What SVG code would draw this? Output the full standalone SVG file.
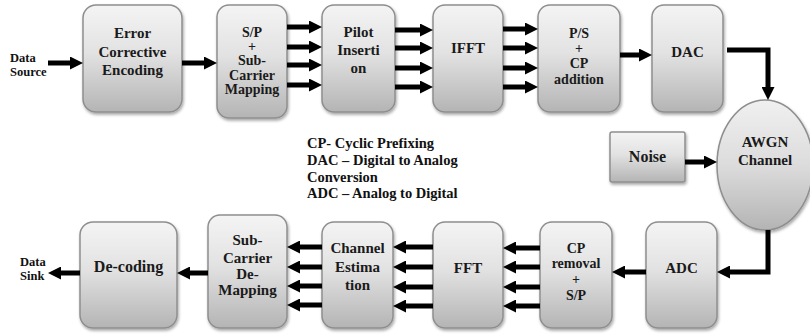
<svg xmlns="http://www.w3.org/2000/svg" width="810" height="336" viewBox="0 0 810 336">
<defs>
<linearGradient id="boxg" x1="0" y1="0" x2="0" y2="1">
<stop offset="0" stop-color="#f4f4f4"/>
<stop offset="0.45" stop-color="#e2e2e2"/>
<stop offset="1" stop-color="#b4b4b4"/>
</linearGradient>
<linearGradient id="ellg" x1="0" y1="0" x2="0" y2="1">
<stop offset="0" stop-color="#f0f0f0"/>
<stop offset="0.5" stop-color="#dcdcdc"/>
<stop offset="1" stop-color="#b4b4b4"/>
</linearGradient>
<filter id="sh" x="-20%" y="-20%" width="140%" height="140%">
<feDropShadow dx="1" dy="2" stdDeviation="1.5" flood-color="#000" flood-opacity="0.35"/>
</filter>
<marker id="ah" viewBox="0 0 13 13" refX="5" refY="6.5" markerWidth="13" markerHeight="13" markerUnits="userSpaceOnUse" orient="auto">
<path d="M0,0 L13,6.5 L0,13 z" fill="#000"/>
</marker>
<style>
.box{fill:url(#boxg);stroke:#8e8e8e;stroke-width:1.5;filter:url(#sh);}
text{font-family:'Liberation Serif','DejaVu Serif',serif;font-weight:bold;}
.t{fill:#1a1a1a;text-anchor:middle;}
.t15{font-size:15px;}
.t14{font-size:14px;}
.t16{font-size:16px;}
.lbl{font-size:12.5px;fill:#111;}
.leg{font-size:14.5px;fill:#111;}
.ar{stroke:#000;stroke-width:5;fill:none;marker-end:url(#ah);}
</style>
</defs>
<rect width="810" height="336" fill="#fff"/>

<g id="ece">
<rect class="box" x="83" y="5" width="99" height="107" rx="13"/>
<text class="t t15" x="132.5" y="38">Error</text>
<text class="t t15" x="132.5" y="57">Corrective</text>
<text class="t t15" x="132.5" y="75">Encoding</text>
</g>
<g id="sp">
<rect class="box" x="217" y="5" width="70" height="113" rx="12"/>
<text class="t t14" x="252" y="37">S/P</text>
<text class="t t14" x="252" y="51">+</text>
<text class="t t14" x="252" y="65">Sub-</text>
<text class="t t14" x="252" y="80">Carrier</text>
<text class="t t14" x="252" y="94">Mapping</text>
</g>
<g id="pilot">
<rect class="box" x="322" y="5" width="73" height="107" rx="12"/>
<text class="t t15" x="358.5" y="37">Pilot</text>
<text class="t t15" x="358.5" y="55">Inserti</text>
<text class="t t15" x="358.5" y="73">on</text>
</g>
<g id="ifft">
<rect class="box" x="433" y="5" width="70" height="107" rx="12"/>
<text class="t t15" x="468" y="53">IFFT</text>
</g>
<g id="ps">
<rect class="box" x="538" y="5" width="82" height="107" rx="12"/>
<text class="t t14" x="579" y="38">P/S</text>
<text class="t t14" x="579" y="53">+</text>
<text class="t t14" x="579" y="68">CP</text>
<text class="t t14" x="579" y="84">addition</text>
</g>
<g id="dac">
<rect class="box" x="652" y="5" width="71" height="107" rx="12"/>
<text class="t t15" x="687.5" y="57">DAC</text>
</g>
<g id="noise">
<rect class="box" x="610" y="132" width="75" height="50" rx="2"/>
<text class="t t16" x="647.5" y="162">Noise</text>
</g>
<g id="awgn">
<ellipse cx="765" cy="165" rx="48" ry="65" fill="url(#ellg)" stroke="#8e8e8e" stroke-width="1.5" filter="url(#sh)"/>
<text class="t t15" x="765" y="147">AWGN</text>
<text class="t t15" x="765" y="165">Channel</text>
</g>
<g id="adc">
<rect class="box" x="646" y="222" width="71" height="106" rx="12"/>
<text class="t t15" x="681.5" y="273">ADC</text>
</g>
<g id="cpr">
<rect class="box" x="540" y="222" width="72" height="106" rx="12"/>
<text class="t t14" x="576" y="253">CP</text>
<text class="t t14" x="576" y="268">removal</text>
<text class="t t14" x="576" y="284">+</text>
<text class="t t14" x="576" y="300">S/P</text>
</g>
<g id="fft">
<rect class="box" x="433" y="222" width="70" height="106" rx="12"/>
<text class="t t15" x="468" y="273">FFT</text>
</g>
<g id="ce">
<rect class="box" x="322" y="222" width="71" height="106" rx="12"/>
<text class="t t15" x="357.5" y="253">Channel</text>
<text class="t t15" x="357.5" y="272">Estima</text>
<text class="t t15" x="357.5" y="290">tion</text>
</g>
<g id="sdm">
<rect class="box" x="208" y="215" width="79" height="113" rx="12"/>
<text class="t t15" x="247.5" y="245">Sub-</text>
<text class="t t15" x="247.5" y="263">Carrier</text>
<text class="t t15" x="247.5" y="279">De-</text>
<text class="t t15" x="247.5" y="295">Mapping</text>
</g>
<g id="dec">
<rect class="box" x="80" y="222" width="97" height="106" rx="13"/>
<text class="t t16" x="128.5" y="272">De-coding</text>
</g>

<g id="labels">
<text class="lbl" x="10" y="62">Data</text>
<text class="lbl" x="10" y="76">Source</text>
<text class="lbl" x="20" y="266">Data</text>
<text class="lbl" x="20" y="280">Sink</text>
<text class="leg" x="307" y="148">CP- Cyclic Prefixing</text>
<text class="leg" x="307" y="165">DAC – Digital to Analog</text>
<text class="leg" x="307" y="182">Conversion</text>
<text class="leg" x="307" y="198">ADC – Analog to Digital</text>
</g>

<g id="connectors">
<line class="ar" x1="48" y1="63" x2="75" y2="63"/>
<line class="ar" x1="182" y1="63" x2="209" y2="63"/>
<line class="ar" x1="287" y1="27" x2="314" y2="27"/>
<line class="ar" x1="287" y1="47" x2="314" y2="47"/>
<line class="ar" x1="287" y1="65" x2="314" y2="65"/>
<line class="ar" x1="287" y1="85" x2="314" y2="85"/>
<line class="ar" x1="395" y1="30" x2="425" y2="30"/>
<line class="ar" x1="395" y1="48" x2="425" y2="48"/>
<line class="ar" x1="395" y1="68" x2="425" y2="68"/>
<line class="ar" x1="395" y1="87" x2="425" y2="87"/>
<line class="ar" x1="503" y1="29" x2="530" y2="29"/>
<line class="ar" x1="503" y1="48" x2="530" y2="48"/>
<line class="ar" x1="503" y1="68" x2="530" y2="68"/>
<line class="ar" x1="503" y1="87" x2="530" y2="87"/>
<line class="ar" x1="620" y1="55" x2="644" y2="55"/>
<path class="ar" d="M727,50 H768 V92"/>
<line class="ar" x1="685" y1="162" x2="709" y2="162"/>
<path class="ar" d="M768,230 V272 H725"/>
<line class="ar" x1="646" y1="272" x2="620" y2="272"/>
<line class="ar" x1="540" y1="248" x2="511" y2="248"/>
<line class="ar" x1="540" y1="267" x2="511" y2="267"/>
<line class="ar" x1="540" y1="287" x2="511" y2="287"/>
<line class="ar" x1="540" y1="306" x2="511" y2="306"/>
<line class="ar" x1="433" y1="247" x2="401" y2="247"/>
<line class="ar" x1="433" y1="267" x2="401" y2="267"/>
<line class="ar" x1="433" y1="287" x2="401" y2="287"/>
<line class="ar" x1="433" y1="306" x2="401" y2="306"/>
<line class="ar" x1="322" y1="247" x2="295" y2="247"/>
<line class="ar" x1="322" y1="267" x2="295" y2="267"/>
<line class="ar" x1="322" y1="286" x2="295" y2="286"/>
<line class="ar" x1="322" y1="305" x2="295" y2="305"/>
<line class="ar" x1="208" y1="273" x2="185" y2="273"/>
<line class="ar" x1="80" y1="273" x2="56" y2="273"/>
</g>
</svg>
